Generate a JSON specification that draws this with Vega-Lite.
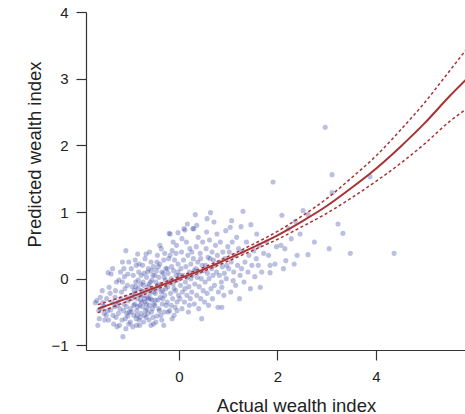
{
  "$schema": "https://vega.github.io/schema/vega-lite/v6.json",
  "width": 379,
  "height": 338,
  "autosize": {"type": "none"},
  "padding": {"left": 86, "top": 12, "right": 0, "bottom": 64},
  "background": "white",
  "datasets": {
    "points": [
      {"x":-1.67,"y":-0.33},{"x":-1.65,"y":-0.70},{"x":-1.62,"y":-0.60},{"x":-1.58,"y":-0.45},{"x":-1.55,"y":-0.36},{"x":-1.60,"y":-0.28},{"x":-1.52,"y":-0.52},{"x":-1.56,"y":-0.18},{"x":-1.53,"y":-0.41},{"x":-1.70,"y":-0.36},{"x":-1.51,"y":-0.62},{"x":-1.63,"y":-0.48},
      {"x":-1.45,"y":-0.48},{"x":-1.42,"y":-0.13},{"x":-1.44,"y":0.09},{"x":-1.38,"y":0.07},{"x":-1.40,"y":-0.22},{"x":-1.36,"y":-0.35},{"x":-1.34,"y":-0.55},{"x":-1.31,"y":-0.42},{"x":-1.28,"y":-0.58},{"x":-1.30,"y":-0.28},{"x":-1.27,"y":-0.05},{"x":-1.47,"y":-0.30},{"x":-1.33,"y":-0.68},{"x":-1.26,"y":-0.40},{"x":-1.48,"y":-0.55},{"x":-1.39,"y":-0.47},{"x":-1.29,"y":-0.18},{"x":-1.35,"y":0.15},{"x":-1.43,"y":-0.62},{"x":-1.26,"y":-0.72},
      {"x":-1.22,"y":-0.02},{"x":-1.15,"y":0.25},{"x":-1.08,"y":0.42},{"x":-1.04,"y":0.07},{"x":-1.02,"y":0.25},{"x":-1.14,"y":-0.87},{"x":-1.04,"y":-0.56},{"x":-1.20,"y":-0.45},{"x":-1.18,"y":-0.30},{"x":-1.16,"y":-0.62},{"x":-1.12,"y":-0.38},{"x":-1.10,"y":-0.15},{"x":-1.06,"y":-0.28},{"x":-1.23,"y":-0.52},{"x":-1.21,"y":-0.70},{"x":-1.13,"y":-0.48},{"x":-1.09,"y":-0.60},{"x":-1.07,"y":-0.42},{"x":-1.05,"y":-0.10},{"x":-1.03,"y":-0.33},{"x":-1.01,"y":-0.50},{"x":-1.19,"y":0.10},{"x":-1.17,"y":-0.20},{"x":-1.11,"y":0.03},{"x":-1.24,"y":-0.35},{"x":-1.02,"y":-0.68},{"x":-1.08,"y":-0.75},{"x":-1.15,"y":-0.05},{"x":-1.12,"y":0.15},{"x":-1.06,"y":-0.52},
      {"x":-0.87,"y":0.20},{"x":-0.84,"y":0.37},{"x":-0.87,"y":-0.60},{"x":-0.98,"y":-0.45},{"x":-0.96,"y":-0.30},{"x":-0.95,"y":-0.12},{"x":-0.93,"y":0.05},{"x":-0.92,"y":-0.55},{"x":-0.90,"y":-0.38},{"x":-0.89,"y":-0.22},{"x":-0.88,"y":-0.05},{"x":-0.86,"y":-0.48},{"x":-0.85,"y":-0.30},{"x":-0.83,"y":-0.15},{"x":-0.82,"y":0.10},{"x":-0.81,"y":-0.62},{"x":-0.80,"y":-0.40},{"x":-0.79,"y":-0.25},{"x":-0.78,"y":-0.08},{"x":-0.77,"y":-0.52},{"x":-0.76,"y":-0.35},{"x":-0.99,"y":-0.65},{"x":-0.97,"y":0.15},{"x":-0.94,"y":-0.72},{"x":-0.91,"y":-0.18},{"x":-0.89,"y":0.28},{"x":-0.86,"y":-0.70},{"x":-0.84,"y":-0.42},{"x":-0.83,"y":-0.02},{"x":-0.81,"y":0.22},{"x":-0.79,"y":-0.58},{"x":-0.78,"y":-0.32},{"x":-0.77,"y":0.05},{"x":-0.76,"y":-0.18},{"x":-0.95,"y":-0.25},{"x":-0.92,"y":-0.40},{"x":-0.88,"y":-0.12},{"x":-0.85,"y":-0.55},{"x":-0.80,"y":-0.70},{"x":-0.97,"y":-0.50},
      {"x":-0.67,"y":0.37},{"x":-0.67,"y":-0.58},{"x":-0.74,"y":-0.42},{"x":-0.73,"y":-0.25},{"x":-0.72,"y":-0.10},{"x":-0.71,"y":0.08},{"x":-0.70,"y":-0.55},{"x":-0.69,"y":-0.35},{"x":-0.68,"y":-0.18},{"x":-0.66,"y":0.02},{"x":-0.65,"y":-0.45},{"x":-0.64,"y":-0.28},{"x":-0.63,"y":-0.12},{"x":-0.62,"y":0.15},{"x":-0.61,"y":-0.62},{"x":-0.60,"y":-0.40},{"x":-0.59,"y":-0.22},{"x":-0.58,"y":-0.05},{"x":-0.57,"y":0.25},{"x":-0.56,"y":-0.50},{"x":-0.55,"y":-0.32},{"x":-0.54,"y":-0.15},{"x":-0.53,"y":0.05},{"x":-0.52,"y":-0.68},{"x":-0.51,"y":-0.38},{"x":-0.74,"y":0.20},{"x":-0.72,"y":-0.65},{"x":-0.70,"y":-0.30},{"x":-0.69,"y":0.30},{"x":-0.66,"y":-0.38},{"x":-0.64,"y":0.10},{"x":-0.63,"y":-0.52},{"x":-0.61,"y":-0.08},{"x":-0.60,"y":0.40},{"x":-0.58,"y":-0.30},{"x":-0.57,"y":-0.70},{"x":-0.55,"y":-0.02},{"x":-0.54,"y":-0.45},{"x":-0.52,"y":0.18},{"x":-0.51,"y":-0.20},{"x":-0.73,"y":-0.05},{"x":-0.68,"y":-0.48},{"x":-0.62,"y":-0.30},{"x":-0.56,"y":0.12},{"x":-0.53,"y":-0.58},
      {"x":-0.45,"y":-0.56},{"x":-0.49,"y":-0.40},{"x":-0.48,"y":-0.22},{"x":-0.47,"y":-0.05},{"x":-0.46,"y":0.12},{"x":-0.44,"y":0.35},{"x":-0.43,"y":-0.32},{"x":-0.42,"y":-0.15},{"x":-0.41,"y":0.02},{"x":-0.40,"y":-0.48},{"x":-0.39,"y":0.22},{"x":-0.38,"y":-0.28},{"x":-0.37,"y":-0.08},{"x":-0.36,"y":0.45},{"x":-0.35,"y":-0.62},{"x":-0.34,"y":-0.38},{"x":-0.33,"y":-0.18},{"x":-0.32,"y":0.08},{"x":-0.31,"y":0.28},{"x":-0.30,"y":-0.50},{"x":-0.29,"y":-0.25},{"x":-0.28,"y":-0.02},{"x":-0.27,"y":0.15},{"x":-0.26,"y":-0.40},{"x":-0.49,"y":0.05},{"x":-0.47,"y":-0.65},{"x":-0.45,"y":0.25},{"x":-0.43,"y":-0.10},{"x":-0.41,"y":-0.45},{"x":-0.39,"y":0.50},{"x":-0.37,"y":-0.55},{"x":-0.35,"y":0.10},{"x":-0.33,"y":-0.30},{"x":-0.31,"y":-0.70},{"x":-0.29,"y":0.38},{"x":-0.27,"y":-0.15},{"x":-0.48,"y":-0.32},{"x":-0.42,"y":0.18},{"x":-0.36,"y":-0.20},{"x":-0.30,"y":0.02},
      {"x":-0.20,"y":0.68},{"x":-0.18,"y":0.67},{"x":-0.08,"y":-0.43},{"x":-0.24,"y":-0.35},{"x":-0.23,"y":-0.12},{"x":-0.22,"y":0.08},{"x":-0.21,"y":0.30},{"x":-0.19,"y":-0.48},{"x":-0.17,"y":-0.22},{"x":-0.16,"y":0.00},{"x":-0.15,"y":0.18},{"x":-0.14,"y":0.42},{"x":-0.13,"y":-0.30},{"x":-0.12,"y":-0.08},{"x":-0.11,"y":0.12},{"x":-0.10,"y":-0.55},{"x":-0.09,"y":0.28},{"x":-0.07,"y":-0.18},{"x":-0.06,"y":0.05},{"x":-0.05,"y":0.50},{"x":-0.04,"y":-0.35},{"x":-0.03,"y":-0.02},{"x":-0.02,"y":0.22},{"x":-0.01,"y":-0.25},{"x":-0.24,"y":0.15},{"x":-0.22,"y":-0.50},{"x":-0.20,"y":-0.05},{"x":-0.18,"y":0.35},{"x":-0.16,"y":-0.40},{"x":-0.12,"y":0.55},{"x":-0.10,"y":-0.15},{"x":-0.06,"y":0.38},{"x":-0.04,"y":-0.48},{"x":-0.02,"y":0.10},{"x":-0.14,"y":-0.60},
      {"x":-0.02,"y":0.69},{"x":0.12,"y":0.73},{"x":0.10,"y":0.75},{"x":0.02,"y":-0.30},{"x":0.03,"y":-0.10},{"x":0.04,"y":0.15},{"x":0.05,"y":0.40},{"x":0.06,"y":-0.45},{"x":0.07,"y":-0.20},{"x":0.08,"y":0.05},{"x":0.09,"y":0.28},{"x":0.11,"y":-0.35},{"x":0.13,"y":-0.05},{"x":0.14,"y":0.18},{"x":0.15,"y":0.55},{"x":0.16,"y":-0.25},{"x":0.17,"y":0.02},{"x":0.18,"y":0.35},{"x":0.19,"y":-0.50},{"x":0.20,"y":-0.12},{"x":0.21,"y":0.10},{"x":0.22,"y":0.45},{"x":0.23,"y":-0.30},{"x":0.24,"y":0.22},{"x":0.01,"y":0.05},{"x":0.06,"y":0.60},{"x":0.12,"y":-0.15},{"x":0.17,"y":0.82},{"x":0.21,"y":-0.40},{"x":0.24,"y":0.00},
      {"x":0.28,"y":0.75},{"x":0.33,"y":0.96},{"x":0.30,"y":0.75},{"x":0.46,"y":-0.60},{"x":0.26,"y":-0.20},{"x":0.27,"y":0.05},{"x":0.29,"y":0.30},{"x":0.31,"y":-0.38},{"x":0.32,"y":-0.08},{"x":0.34,"y":0.15},{"x":0.35,"y":0.48},{"x":0.36,"y":-0.25},{"x":0.37,"y":0.02},{"x":0.38,"y":0.25},{"x":0.39,"y":0.62},{"x":0.40,"y":-0.45},{"x":0.41,"y":-0.12},{"x":0.42,"y":0.10},{"x":0.43,"y":0.38},{"x":0.44,"y":-0.30},{"x":0.45,"y":0.00},{"x":0.47,"y":0.20},{"x":0.48,"y":0.55},{"x":0.49,"y":-0.18},{"x":0.26,"y":0.40},{"x":0.31,"y":0.12},{"x":0.36,"y":0.80},{"x":0.44,"y":0.30},
      {"x":0.64,"y":0.99},{"x":0.52,"y":-0.35},{"x":0.53,"y":-0.05},{"x":0.54,"y":0.20},{"x":0.55,"y":0.45},{"x":0.56,"y":0.70},{"x":0.57,"y":-0.22},{"x":0.58,"y":0.08},{"x":0.59,"y":0.32},{"x":0.60,"y":-0.40},{"x":0.61,"y":0.00},{"x":0.62,"y":0.58},{"x":0.65,"y":-0.15},{"x":0.66,"y":0.15},{"x":0.67,"y":0.40},{"x":0.68,"y":-0.30},{"x":0.69,"y":0.05},{"x":0.70,"y":0.28},{"x":0.71,"y":0.85},{"x":0.72,"y":-0.10},{"x":0.73,"y":0.20},{"x":0.74,"y":0.50},{"x":0.51,"y":0.12},{"x":0.57,"y":0.90},{"x":0.63,"y":0.30},
      {"x":0.77,"y":0.67},{"x":0.79,"y":-0.43},{"x":0.87,"y":-0.43},{"x":0.87,"y":-0.13},{"x":0.76,"y":0.10},{"x":0.78,"y":0.35},{"x":0.80,"y":-0.20},{"x":0.82,"y":0.05},{"x":0.83,"y":0.25},{"x":0.84,"y":0.55},{"x":0.86,"y":-0.05},{"x":0.88,"y":0.18},{"x":0.89,"y":0.40},{"x":0.91,"y":-0.25},{"x":0.92,"y":0.08},{"x":0.93,"y":0.30},{"x":0.95,"y":0.72},{"x":0.96,"y":0.00},{"x":0.97,"y":0.20},{"x":0.99,"y":0.48},
      {"x":1.07,"y":0.87},{"x":1.04,"y":0.77},{"x":1.10,"y":-0.03},{"x":1.01,"y":0.15},{"x":1.02,"y":0.40},{"x":1.05,"y":-0.20},{"x":1.06,"y":0.25},{"x":1.08,"y":0.55},{"x":1.11,"y":0.10},{"x":1.13,"y":0.35},{"x":1.15,"y":-0.10},{"x":1.17,"y":0.62},{"x":1.19,"y":0.20},{"x":1.21,"y":0.45},{"x":1.23,"y":-0.30},{"x":1.24,"y":0.05},
      {"x":1.30,"y":1.01},{"x":1.26,"y":0.78},{"x":1.46,"y":0.81},{"x":1.27,"y":0.15},{"x":1.29,"y":0.40},{"x":1.32,"y":-0.05},{"x":1.34,"y":0.25},{"x":1.37,"y":0.55},{"x":1.40,"y":0.10},{"x":1.42,"y":0.35},{"x":1.45,"y":-0.15},{"x":1.48,"y":0.20},
      {"x":1.58,"y":0.67},{"x":1.61,"y":0.20},{"x":1.54,"y":0.03},{"x":1.65,"y":-0.13},{"x":1.52,"y":0.42},{"x":1.57,"y":0.30},{"x":1.63,"y":0.50},{"x":1.68,"y":0.10},{"x":1.72,"y":0.38},
      {"x":1.85,"y":0.20},{"x":1.95,"y":0.22},{"x":1.85,"y":0.09},{"x":1.91,"y":1.45},{"x":1.78,"y":0.55},{"x":1.82,"y":0.35},{"x":1.98,"y":0.48},
      {"x":2.09,"y":0.95},{"x":2.07,"y":0.50},{"x":2.15,"y":0.45},{"x":2.17,"y":0.27},{"x":2.34,"y":0.22},{"x":2.36,"y":0.86},{"x":2.46,"y":0.67},{"x":2.28,"y":0.60},{"x":2.12,"y":0.15},{"x":2.40,"y":0.35},{"x":2.22,"y":0.75},
      {"x":2.52,"y":1.02},{"x":2.62,"y":0.96},{"x":2.62,"y":0.36},{"x":2.97,"y":2.27},{"x":3.11,"y":1.56},{"x":3.11,"y":1.29},{"x":3.88,"y":1.53},{"x":3.23,"y":0.82},{"x":3.33,"y":0.68},{"x":3.05,"y":0.45},{"x":3.48,"y":0.38},{"x":4.37,"y":0.38},{"x":2.75,"y":0.55}
    ],
    "curve": [
      {"x":-1.65,"fit":-0.45,"lo":-0.51,"hi":-0.39},
      {"x":-1.0,"fit":-0.28,"lo":-0.325,"hi":-0.235},
      {"x":-0.5,"fit":-0.14,"lo":-0.175,"hi":-0.105},
      {"x":0.0,"fit":0.0,"lo":-0.03,"hi":0.03},
      {"x":0.5,"fit":0.14,"lo":0.11,"hi":0.17},
      {"x":1.0,"fit":0.30,"lo":0.265,"hi":0.335},
      {"x":1.5,"fit":0.47,"lo":0.425,"hi":0.515},
      {"x":2.0,"fit":0.65,"lo":0.59,"hi":0.71},
      {"x":2.5,"fit":0.86,"lo":0.78,"hi":0.94},
      {"x":3.0,"fit":1.09,"lo":0.98,"hi":1.20},
      {"x":3.5,"fit":1.36,"lo":1.21,"hi":1.51},
      {"x":4.0,"fit":1.65,"lo":1.46,"hi":1.84},
      {"x":4.5,"fit":1.98,"lo":1.73,"hi":2.23},
      {"x":5.0,"fit":2.34,"lo":2.03,"hi":2.65},
      {"x":5.5,"fit":2.74,"lo":2.36,"hi":3.12},
      {"x":5.85,"fit":3.00,"lo":2.55,"hi":3.45}
    ]
  },
  "layer": [
    {
      "data": {"name": "points"},
      "mark": {"type": "point", "filled": true, "shape": "circle", "size": 26, "color": "#3040a0", "opacity": 0.33, "strokeWidth": 0},
      "encoding": {
        "x": {"field": "x", "type": "quantitative", "scale": {"domain": [-1.89, 5.81], "nice": false, "zero": false},
          "axis": {"values": [0, 2, 4], "format": "d", "title": "Actual wealth index", "labelPadding": 9, "titleX": 210, "titleY": 61, "titleBaseline": "alphabetic", "titleAlign": "center", "titleAnchor": null}},
        "y": {"field": "y", "type": "quantitative", "scale": {"domain": [-1.07, 4], "nice": false, "zero": false},
          "axis": {"values": [-1, 0, 1, 2, 3, 4], "format": "d", "title": "Predicted wealth index", "labelPadding": 8, "titleX": -46, "titleY": 142, "titleBaseline": "alphabetic", "titleAlign": "center", "titleAngle": 270}}
      }
    },
    {
      "data": {"name": "curve"},
      "mark": {"type": "line", "color": "#a83236", "strokeWidth": 1.5, "strokeDash": [3, 2.5], "interpolate": "monotone", "clip": true},
      "encoding": {"x": {"field": "x", "type": "quantitative"}, "y": {"field": "lo", "type": "quantitative"}}
    },
    {
      "data": {"name": "curve"},
      "mark": {"type": "line", "color": "#a83236", "strokeWidth": 1.5, "strokeDash": [3, 2.5], "interpolate": "monotone", "clip": true},
      "encoding": {"x": {"field": "x", "type": "quantitative"}, "y": {"field": "hi", "type": "quantitative"}}
    },
    {
      "data": {"name": "curve"},
      "mark": {"type": "line", "color": "#a83236", "strokeWidth": 2, "interpolate": "monotone", "clip": true},
      "encoding": {"x": {"field": "x", "type": "quantitative"}, "y": {"field": "fit", "type": "quantitative"}}
    }
  ],
  "config": {
    "view": {"stroke": null},
    "axis": {"grid": false, "domainColor": "#333333", "tickColor": "#333333", "labelColor": "#222222", "titleColor": "#222222",
      "labelFont": "Liberation Sans", "titleFont": "Liberation Sans", "labelFontSize": 15, "titleFontSize": 18.5, "titleFontWeight": "normal",
      "tickSize": 10, "domainWidth": 1.2, "tickWidth": 1.2, "labelFlush": false, "labelOverlap": false}
  }
}
